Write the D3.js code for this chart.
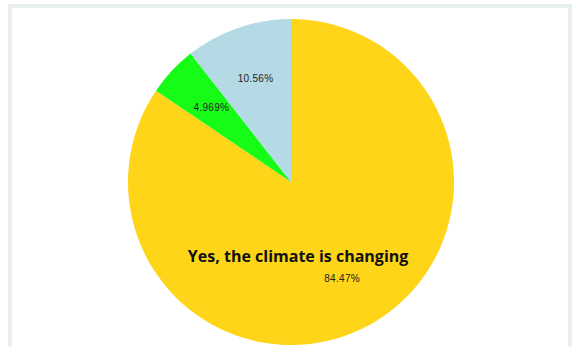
<!DOCTYPE html>
<html>
<head>
<meta charset="utf-8">
<script src="https://cdn.jsdelivr.net/npm/d3@7"></script>
<style>
  html, body { margin: 0; padding: 0; background: #fff; }
  #chart { width: 572px; height: 347px; }
</style>
</head>
<body>
<div id="chart"></div>
<script>
const categories = ["Yes, the climate is changing", "No", "Don't know"]
const values = [84.47, 4.969, 10.56]
const labels = ["84.47%", "4.969%", "10.56%"]
const colors = ["#fed518", "#17fc17", "#b4dae6"]

const width = 572
const height = 347

const svg = d3.select("#chart")
  .append("svg")
  .attr("width", width)
  .attr("height", height)

// light frame around the panel
svg.append("rect")
  .attr("x", 10)
  .attr("y", 6)
  .attr("width", 560)
  .attr("height", 350)
  .attr("fill", "none")
  .attr("stroke", "#e8f0f2")
  .attr("stroke-width", 4)

const cx = 291
const cy = 182
const radius = 163

const g = svg.append("g")
  .attr("transform", `translate(${cx},${cy})`)

const pie = d3.pie().sort(null).value(d => d)
const arcs = pie(values)

const arc = d3.arc().innerRadius(0).outerRadius(radius)
const labelArc = d3.arc().innerRadius(109).outerRadius(109)

g.selectAll("path")
  .data(arcs)
  .enter()
  .append("path")
  .attr("d", arc)
  .attr("fill", (d, i) => colors[i])

g.selectAll("text.pct")
  .data(arcs)
  .enter()
  .append("text")
  .attr("class", "pct")
  .attr("transform", d => `translate(${labelArc.centroid(d)})`)
  .attr("text-anchor", "middle")
  .attr("dy", "0.35em")
  .style("font-family", "'Liberation Sans', Arial, sans-serif")
  .style("font-size", "10px")
  .style("letter-spacing", "0.3px")
  .style("fill", "#222")
  .text((d, i) => labels[i])

// category name for the big slice
const yes = arcs[0]
const [lx, ly] = labelArc.centroid(yes)
g.append("text")
  .attr("x", lx - 44)
  .attr("y", ly - 16)
  .attr("text-anchor", "middle")
  .style("font-family", "'Open Sans', 'Noto Sans', sans-serif")
  .style("font-weight", "bold")
  .style("font-size", "16px")
  .style("fill", "#111")
  .text(categories[0])
</script>
</body>
</html>
